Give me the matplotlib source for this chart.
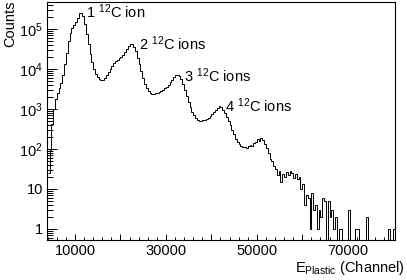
import numpy as np
import matplotlib
matplotlib.use('Agg')
import matplotlib.pyplot as plt
from matplotlib.ticker import FixedLocator, FixedFormatter, MultipleLocator, LogLocator, NullFormatter

# ---- data (histogram, bin width 400 channels starting at 4000) ----
bin_start = 4000
bin_width = 400
counts = np.array([
    25, 95, 420, 1000, 1800, 2500, 3300, 4500, 7000, 13000,
    25000, 50000, 80000, 105000, 125000, 145000, 190000, 245000, 255000, 215000,
    130000, 75000, 42000, 24000, 15000, 10000, 7500, 6300, 5600, 5300,
    5300, 5800, 7000, 8400, 10000, 12000, 14000, 15500, 17000, 18500,
    20000, 22500, 26000, 31000, 37000, 41000, 42000, 36000, 28000, 19000,
    13000, 8800, 6000, 4300, 3300, 2800, 2500, 2400, 2400, 2450,
    2550, 2650, 2800, 3000, 3300, 3600, 4000, 4600, 5300, 6200,
    6900, 7100, 6600, 5600, 4300, 3000, 2100, 1500, 1100, 850,
    700, 600, 540, 510, 500, 520, 540, 570, 610, 680,
    760, 850, 950, 1080, 1150, 1100, 950, 780, 620, 490,
    390, 300, 230, 180, 150, 130, 118, 110, 115, 105,
    120, 125, 118, 140, 150, 175, 160, 190, 165, 130,
    105, 80, 55, 50, 38, 32, 22, 28, 15, 24,
    20, 27, 22, 28, 25, 19, 24, 18, 20, 10,
    13, 4, 7, 6, 1, 8, 3, 4, 1, 3,
    2, 6, 5, 0, 5, 2, 3, 1, 2, 0,
    1, 1, 0, 0, 0, 3, 0, 0, 0, 1,
    1, 0, 0, 0, 0, 2, 0, 0, 0, 0,
    0, 0, 0, 0, 0, 0, 0, 1, 0, 0,
    1, 0,
], dtype=float)

peak_labels = [r"1 $^{12}$C ion", r"2 $^{12}$C ions", r"3 $^{12}$C ions", r"4 $^{12}$C ions"]
peak_label_x = [12400, 24070, 33960, 42970]
peak_label_y = [1.88e5, 2.99e4, 4800, 855]

x_major = [10000, 20000, 30000, 40000, 50000, 60000, 70000, 80000]
x_major_labels = ["10000", "", "30000", "", "50000", "", "70000", ""]
y_major = [1, 10, 100, 1000, 10000, 100000]
y_major_labels = ["1", "10", r"$10^{2}$", r"$10^{3}$", r"$10^{4}$", r"$10^{5}$"]

# ---- style ----
plt.rcParams['font.family'] = ['Liberation Sans', 'DejaVu Sans']
plt.rcParams['mathtext.fontset'] = 'custom'
plt.rcParams['mathtext.rm'] = 'Liberation Sans'
plt.rcParams['mathtext.it'] = 'Liberation Sans:italic'
plt.rcParams['mathtext.bf'] = 'Liberation Sans:bold'

fig = plt.figure(figsize=(4.07, 2.80), dpi=100)
ax = fig.add_axes([47/407, 40/280, 348/407, 238/280])

edges = bin_start + bin_width * np.arange(len(counts) + 1)
plot_vals = np.where(counts > 0, counts, 1e-3)
ax.stairs(plot_vals, edges, color='black', lw=0.7, baseline=None)

ax.set_yscale('log')
ax.set_ylim(0.53, 4.7e5)
ax.set_xlim(3850, 80400)

ax.xaxis.set_major_locator(FixedLocator(x_major))
ax.xaxis.set_major_formatter(FixedFormatter(x_major_labels))
ax.xaxis.set_minor_locator(MultipleLocator(2000))
ax.yaxis.set_major_locator(FixedLocator(y_major))
ax.yaxis.set_major_formatter(FixedFormatter(y_major_labels))
ax.yaxis.set_minor_locator(LogLocator(base=10, subs=np.arange(2, 10)))
ax.yaxis.set_minor_formatter(NullFormatter())

ax.tick_params(axis='both', which='both', direction='in', top=False, right=False,
               colors='black', labelsize=10.5, width=0.7)
ax.tick_params(axis='x', which='major', length=4.3, pad=3)
ax.tick_params(axis='x', which='minor', length=2.2)
ax.tick_params(axis='y', which='major', length=7.5, pad=3)
ax.tick_params(axis='y', which='minor', length=4.0)
for s in ax.spines.values():
    s.set_linewidth(0.8)
    s.set_color('black')

for lab, lx, ly in zip(peak_labels, peak_label_x, peak_label_y):
    ax.text(lx, ly, lab, ha='left', va='baseline', fontsize=10.5)

fig.text(405/407, 8/280, r"E$_{\mathrm{Plastic}}$ (Channel)", ha='right', va='baseline', fontsize=10.5)
fig.text(10/407, 0.998, "Counts", rotation=90, ha='center', va='top', fontsize=10.5)

fig.savefig('out.png', dpi=100)
